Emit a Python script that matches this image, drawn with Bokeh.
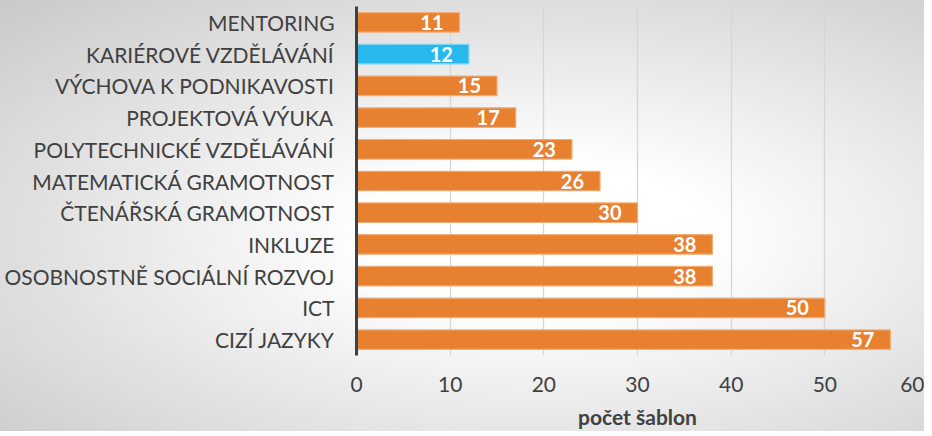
from bokeh.plotting import figure
from bokeh.models import ColumnDataSource, FixedTicker, FactorRange, Range1d
from bokeh.core.properties import value
from bokeh.embed import file_html
from bokeh.resources import INLINE

# data (top to bottom as in the chart)
categories = ["MENTORING", "KARIÉROVÉ VZDĚLÁVÁNÍ", "VÝCHOVA K PODNIKAVOSTI",
              "PROJEKTOVÁ VÝUKA", "POLYTECHNICKÉ VZDĚLÁVÁNÍ", "MATEMATICKÁ GRAMOTNOST",
              "ČTENÁŘSKÁ GRAMOTNOST", "INKLUZE", "OSOBNOSTNĚ SOCIÁLNÍ ROZVOJ",
              "ICT", "CIZÍ JAZYKY"]
counts = [11, 12, 15, 17, 23, 26, 30, 38, 38, 50, 57]
highlight = "KARIÉROVÉ VZDĚLÁVÁNÍ"
x_ticks = [0, 10, 20, 30, 40, 50, 60]
x_title = "počet šablon"

ORANGE = "#E8812F"
ORANGE_EDGE = "#F2AC74"
BLUE = "#27B9EE"
BLUE_EDGE = "#7FD3F3"

colors = [BLUE if c == highlight else ORANGE for c in categories]
edges = [BLUE_EDGE if c == highlight else ORANGE_EDGE for c in categories]
labels = [str(v) for v in counts]

src = ColumnDataSource(dict(cat=categories, val=counts, color=colors, edge=edges, lab=labels))

FONT = "Lato"

p = figure(frame_width=562, frame_height=349, output_backend="svg", toolbar_location=None,
           y_range=FactorRange(*list(reversed(categories)), range_padding=0),
           x_range=Range1d(0, 60),
           min_border_left=356, min_border_right=6, min_border_top=6, min_border_bottom=73)

p.styles = {"background": "radial-gradient(ellipse farthest-corner at 58% 55%, #ffffff 0%, #ffffff 22%, #c9c9c9 100%)"}
p.background_fill_alpha = 0
p.border_fill_alpha = 0
p.outline_line_color = None

p.hbar(y="cat", right="val", left=0, height=0.615, source=src,
       fill_color="color", line_color="edge", line_width=1.2)

p.text(x="val", y="cat", text="lab", source=src, x_offset=-16,
       text_align="right", text_baseline="middle", text_color="white",
       text_font=value(FONT), text_font_style="bold", text_font_size="20px")

# x axis
xa = p.xaxis[0]
xa.ticker = FixedTicker(ticks=x_ticks)
xa.axis_line_color = None
xa.major_tick_line_color = None
xa.minor_tick_line_color = None
xa.major_tick_out = 0
xa.major_tick_in = 0
xa.minor_tick_out = 0
xa.major_label_text_font = FONT
xa.major_label_text_font_size = "21px"
xa.major_label_text_color = "#404040"
xa.major_label_standoff = 21
xa.axis_label = x_title
xa.axis_label_text_font = FONT
xa.axis_label_text_font_size = "21px"
xa.axis_label_text_font_style = "bold"
xa.axis_label_text_color = "#404040"
xa.axis_label_standoff = 9

# y axis
ya = p.yaxis[0]
ya.axis_line_color = "#404040"
ya.axis_line_width = 3
ya.major_tick_line_color = None
ya.minor_tick_line_color = None
ya.major_tick_out = 0
ya.major_tick_in = 0
ya.minor_tick_out = 0
ya.major_label_text_font = FONT
ya.major_label_text_font_size = "21px"
ya.major_label_text_color = "#404040"
ya.major_label_standoff = 22

p.xgrid.grid_line_color = "#D6D6D6"
p.xgrid.grid_line_width = 1.3
p.ygrid.grid_line_color = None

open("out.html", "w").write(file_html(p, INLINE))
